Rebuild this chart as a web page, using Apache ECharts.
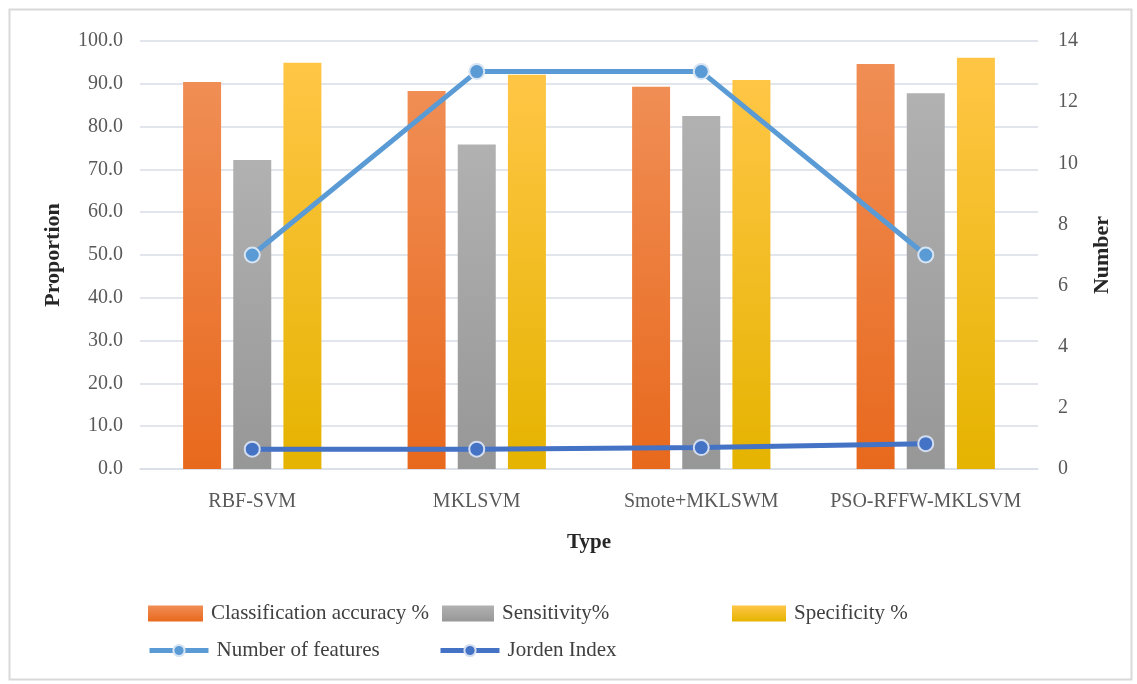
<!DOCTYPE html>
<html>
<head>
<meta charset="utf-8">
<script src="https://cdn.jsdelivr.net/npm/echarts@6/dist/echarts.min.js"></script>
<style>
  html, body { margin: 0; padding: 0; background: #fff; }
  #chart { width: 1137px; height: 684px; }
</style>
</head>
<body>
<div id="chart"></div>
<script>
// Categories and series values
const categories = ['RBF-SVM', 'MKLSVM', 'Smote+MKLSWM', 'PSO-RFFW-MKLSVM'];
const accuracy = [90.4, 88.3, 89.3, 94.6];
const sensitivity = [72.2, 75.8, 82.5, 87.8];
const specificity = [94.9, 92.1, 90.9, 96.1];
const featureCount = [7, 13, 13, 7];
const jordenIndex = [0.65, 0.65, 0.7, 0.83];

const seriesNames = ['Classification accuracy %', 'Sensitivity%', 'Specificity %', 'Number of features', 'Jorden Index'];

const FONT = '"Liberation Serif", "Times New Roman", serif';

function vGrad(top, bottom) {
  return { type: 'linear', x: 0, y: 0, x2: 0, y2: 1,
    colorStops: [{ offset: 0, color: top }, { offset: 1, color: bottom }] };
}

// One legend box per entry so the entries sit in fixed columns
function legendAt(name, left, top, w, h, icon) {
  const item = { name: name };
  if (icon) item.icon = icon;
  return {
    data: [item], left: left, top: top, padding: 0,
    itemWidth: w, itemHeight: h,
    lineStyle: { width: 5 },
    textStyle: { fontFamily: FONT, fontSize: 21, color: '#404040', padding: [0, 0, 0, 3] }
  };
}

const chart = echarts.init(document.getElementById('chart'));
chart.setOption({
  backgroundColor: '#fff',
  animation: false,
  graphic: [{
    type: 'rect', left: 7, top: 7,
    shape: { width: 1122, height: 670 },
    style: { fill: 'none', stroke: '#D9D9D9', lineWidth: 2 }
  }],
  grid: { left: 140, right: 99, top: 41, bottom: 215 },
  legend: [
    legendAt(seriesNames[0], 148, 603, 55, 16, 'rect'),
    legendAt(seriesNames[1], 442, 603, 52, 16, 'rect'),
    legendAt(seriesNames[2], 732, 603, 54, 16, 'rect'),
    legendAt(seriesNames[3], 147, 640, 59, 14),
    legendAt(seriesNames[4], 438, 640, 59, 14)
  ],
  xAxis: {
    type: 'category',
    data: categories,
    name: 'Type',
    nameLocation: 'middle',
    nameGap: 63,
    nameTextStyle: { fontFamily: FONT, fontSize: 21, fontWeight: 'bold', color: '#262626' },
    axisLine: { lineStyle: { color: '#D9DEE6', width: 1.5 } },
    axisTick: { show: false },
    axisLabel: { fontFamily: FONT, fontSize: 20, color: '#595959', margin: 23, interval: 0 }
  },
  yAxis: [{
    type: 'value', min: 0, max: 100, interval: 10,
    name: 'Proportion', nameLocation: 'middle', nameGap: 76,
    nameTextStyle: { fontFamily: FONT, fontSize: 22, fontWeight: 'bold', color: '#262626' },
    axisLine: { show: false }, axisTick: { show: false },
    axisLabel: { fontFamily: FONT, fontSize: 20, color: '#595959', margin: 17,
      formatter: v => v.toFixed(1) },
    splitLine: { lineStyle: { color: '#D9DEE6', width: 1.5 } }
  }, {
    type: 'value', min: 0, max: 14, interval: 2,
    name: 'Number', nameLocation: 'middle', nameGap: 53,
    nameTextStyle: { fontFamily: FONT, fontSize: 22, fontWeight: 'bold', color: '#262626' },
    axisLine: { show: false }, axisTick: { show: false },
    axisLabel: { fontFamily: FONT, fontSize: 20, color: '#595959', margin: 20 },
    splitLine: { show: false }
  }],
  series: [
    {
      name: seriesNames[0], type: 'bar', data: accuracy,
      barWidth: 38, barGap: '32%',
      itemStyle: { color: vGrad('#F08E55', '#E8691D') }
    },
    {
      name: seriesNames[1], type: 'bar', data: sensitivity,
      barWidth: 38, barGap: '32%',
      itemStyle: { color: vGrad('#B1B1B1', '#979797') }
    },
    {
      name: seriesNames[2], type: 'bar', data: specificity,
      barWidth: 38, barGap: '32%',
      itemStyle: { color: vGrad('#FFC646', '#E5B300') }
    },
    {
      name: seriesNames[3], type: 'line', yAxisIndex: 1, data: featureCount,
      symbol: 'circle', symbolSize: 15, z: 5,
      lineStyle: { color: '#5B9BD5', width: 5 },
      itemStyle: { color: '#5B9BD5', borderColor: '#D6E4F3', borderWidth: 2 }
    },
    {
      name: seriesNames[4], type: 'line', yAxisIndex: 1, data: jordenIndex,
      symbol: 'circle', symbolSize: 15, z: 5,
      lineStyle: { color: '#4472C4', width: 5 },
      itemStyle: { color: '#4472C4', borderColor: '#D3DDF0', borderWidth: 2 }
    }
  ]
});
</script>
</body>
</html>
